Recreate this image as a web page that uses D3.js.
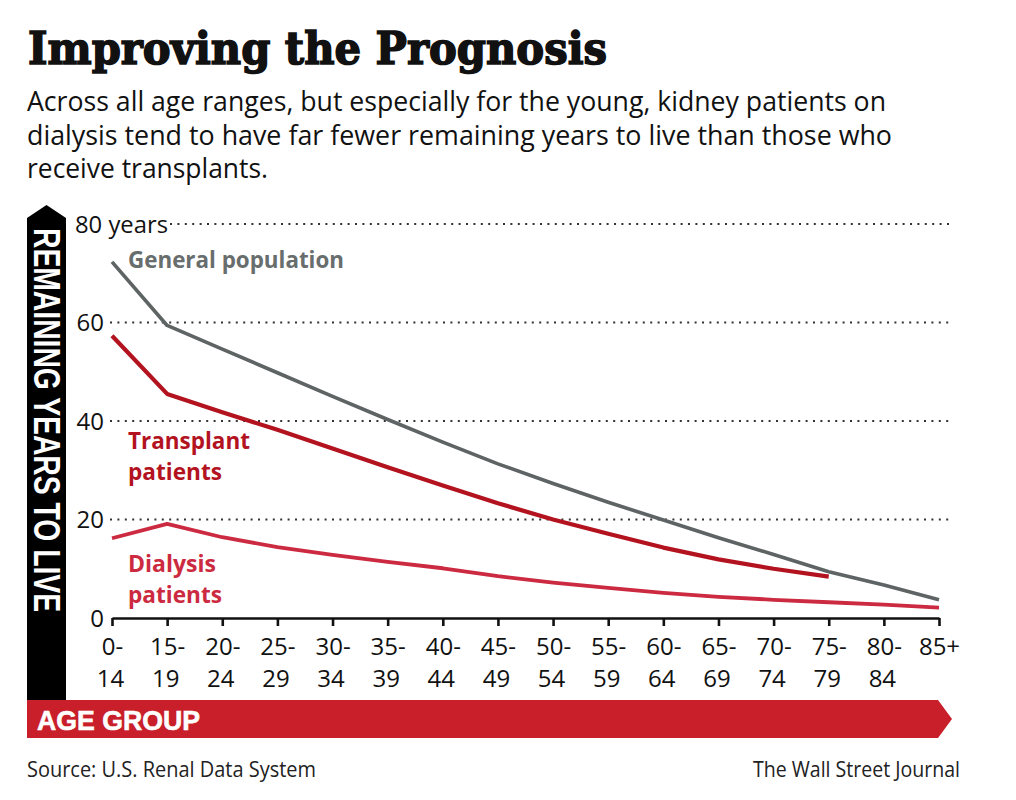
<!DOCTYPE html>
<html>
<head>
<meta charset="utf-8">
<script src="https://cdn.jsdelivr.net/npm/d3@7"></script>
<style>
  body { margin: 0; background: #fff; }
  svg { display: block; }
</style>
</head>
<body>
<svg id="chart" width="1016" height="800"></svg>
<script>
(function () {
  'use strict';

  // data
  var ageGroups = ["0-14", "15-19", "20-24", "25-29", "30-34", "35-39", "40-44", "45-49",
                   "50-54", "55-59", "60-64", "65-69", "70-74", "75-79", "80-84", "85+"];
  var generalPop = [72.3, 59.4, 54.6, 49.8, 45.0, 40.3, 35.7, 31.3, 27.3, 23.5, 19.9, 16.3, 12.9, 9.4, 6.7, 3.7];
  var transplant = [57.3, 45.5, 41.8, 38.2, 34.4, 30.6, 26.9, 23.3, 20.0, 17.1, 14.3, 11.9, 10.0, 8.4];
  var dialysis = [16.2, 19.1, 16.4, 14.4, 12.8, 11.4, 10.1, 8.5, 7.2, 6.1, 5.1, 4.3, 3.7, 3.2, 2.7, 2.1];
  var yTicks = [0, 20, 40, 60, 80];

  var sans = "'Open Sans', 'Noto Sans', sans-serif";
  var bold = "'Liberation Sans', Arial, sans-serif";

  var svg = d3.select('#chart');

  var x = d3.scalePoint().domain(ageGroups).range([112, 939]);
  var y = d3.scaleLinear().domain([0, 80]).range([618, 224]);

  // title + subtitle
  svg.append('text')
    .attr('x', 28).attr('y', 64)
    .attr('textLength', 579).attr('lengthAdjust', 'spacingAndGlyphs')
    .style('font-family', "'DejaVu Serif', serif")
    .style('font-weight', 900).style('font-size', '44px').style('fill', '#111')
    .style('stroke', '#111').style('stroke-width', 1.6)
    .text('Improving the Prognosis');

  var sub = [
    ["Across all age ranges, but especially for the young, kidney patients on", 859, 111],
    ["dialysis tend to have far fewer remaining years to live than those who", 865, 145],
    ["receive transplants.", 241, 178]
  ];
  svg.selectAll('.sub').data(sub).enter().append('text')
    .attr('class', 'sub')
    .attr('x', 27).attr('y', function (d) { return d[2]; })
    .attr('textLength', function (d) { return d[1]; })
    .attr('lengthAdjust', 'spacingAndGlyphs')
    .style('font-family', sans).style('font-size', '26.5px').style('fill', '#111')
    .text(function (d) { return d[0]; });

  // black y arrow
  svg.append('path')
    .attr('d', 'M27,700 L27,218 L46.5,205 L66,218 L66,700 Z')
    .attr('fill', '#000');
  svg.append('text')
    .attr('transform', 'translate(34,228) rotate(90)')
    .attr('textLength', 384).attr('lengthAdjust', 'spacingAndGlyphs')
    .style('font-family', bold).style('font-weight', 'bold')
    .style('font-size', '36px').style('fill', '#fff')
    .text('REMAINING YEARS TO LIVE');

  // red x arrow
  svg.append('path')
    .attr('d', 'M27,700 L938,700 L952,719 L938,738 L27,738 Z')
    .attr('fill', '#c81f2a');
  svg.append('text')
    .attr('x', 37).attr('y', 730)
    .attr('textLength', 163).attr('lengthAdjust', 'spacingAndGlyphs')
    .style('font-family', bold).style('font-weight', 'bold')
    .style('font-size', '27px').style('fill', '#fff')
    .style('stroke', '#fff').style('stroke-width', 0.6)
    .text('AGE GROUP');

  // gridlines
  var gridStart = { 20: 110, 40: 110, 60: 110, 80: 170 };
  svg.selectAll('.grid').data(yTicks.filter(function (d) { return d > 0; }))
    .enter().append('line')
    .attr('class', 'grid')
    .attr('x1', function (d) { return gridStart[d]; })
    .attr('x2', 953)
    .attr('y1', function (d) { return y(d); })
    .attr('y2', function (d) { return y(d); })
    .attr('stroke', '#333').attr('stroke-width', 2.2)
    .attr('stroke-dasharray', '2,5.4');

  // y axis labels
  var yAxis = svg.append('g')
    .attr('transform', 'translate(106,0)')
    .call(d3.axisLeft(y).tickValues(yTicks).tickSize(0).tickPadding(2)
      .tickFormat(function (d) { return d === 80 ? '80 years' : d; }));
  yAxis.select('.domain').remove();
  yAxis.selectAll('text')
    .style('font-family', sans).style('font-size', '24px').style('fill', '#111')
    .attr('dy', '0.35em');
  yAxis.selectAll('.tick').filter(function (d) { return d === 80; })
    .select('text').attr('text-anchor', 'start').attr('x', -31)
    .attr('textLength', 93).attr('lengthAdjust', 'spacingAndGlyphs');

  // x axis
  var xAxis = svg.append('g')
    .attr('transform', 'translate(0,' + y(0) + ')')
    .call(d3.axisBottom(x).tickSize(8).tickSizeOuter(0).tickFormat(''));
  xAxis.select('.domain').attr('stroke', '#111').attr('stroke-width', 2.6);
  xAxis.selectAll('.tick line').attr('stroke', '#111').attr('stroke-width', 2.6);
  var lab = xAxis.selectAll('.tick').append('text')
    .style('font-family', sans).style('font-size', '24px').style('fill', '#111')
    .attr('text-anchor', 'middle');
  lab.append('tspan').attr('x', 0).attr('y', 37)
    .text(function (d) { return d.indexOf('-') > 0 ? d.split('-')[0] + '-' : d; });
  lab.append('tspan').attr('x', -2).attr('y', 69)
    .text(function (d) { return d.indexOf('-') > 0 ? d.split('-')[1] : ''; });

  // lines
  var line = d3.line()
    .x(function (d, i) { return x(ageGroups[i]); })
    .y(function (d) { return y(d); });

  var series = [
    { values: generalPop, color: '#5e6363', width: 3.6 },
    { values: dialysis, color: '#cc2a40', width: 3.8 },
    { values: transplant, color: '#b3131f', width: 4.2 }
  ];
  svg.selectAll('.series').data(series).enter().append('path')
    .attr('class', 'series')
    .attr('d', function (d) { return line(d.values); })
    .attr('fill', 'none')
    .attr('stroke', function (d) { return d.color; })
    .attr('stroke-width', function (d) { return d.width; })
    .attr('stroke-linejoin', 'round');

  // line labels
  var labels = [
    ['General population', 128, 268, 216, '#686d6d'],
    ['Transplant', 128, 449, 122, '#b3131f'],
    ['patients', 128, 480, 94, '#b3131f'],
    ['Dialysis', 128, 572, 88, '#cc2a40'],
    ['patients', 128, 603, 94, '#cc2a40']
  ];
  svg.selectAll('.lbl').data(labels).enter().append('text')
    .attr('class', 'lbl')
    .attr('x', function (d) { return d[1]; })
    .attr('y', function (d) { return d[2]; })
    .attr('textLength', function (d) { return d[3]; })
    .attr('lengthAdjust', 'spacingAndGlyphs')
    .style('font-family', sans).style('font-weight', 'bold')
    .style('font-size', '24px')
    .style('fill', function (d) { return d[4]; })
    .text(function (d) { return d[0]; });

  // footer
  svg.append('text')
    .attr('x', 27).attr('y', 777)
    .attr('textLength', 289).attr('lengthAdjust', 'spacingAndGlyphs')
    .style('font-family', sans).style('font-size', '21px').style('fill', '#222')
    .text('Source: U.S. Renal Data System');
  svg.append('text')
    .attr('x', 960).attr('y', 777).attr('text-anchor', 'end')
    .attr('textLength', 207).attr('lengthAdjust', 'spacingAndGlyphs')
    .style('font-family', sans).style('font-size', '21px').style('fill', '#222')
    .text('The Wall Street Journal');
})();
</script>
</body>
</html>
